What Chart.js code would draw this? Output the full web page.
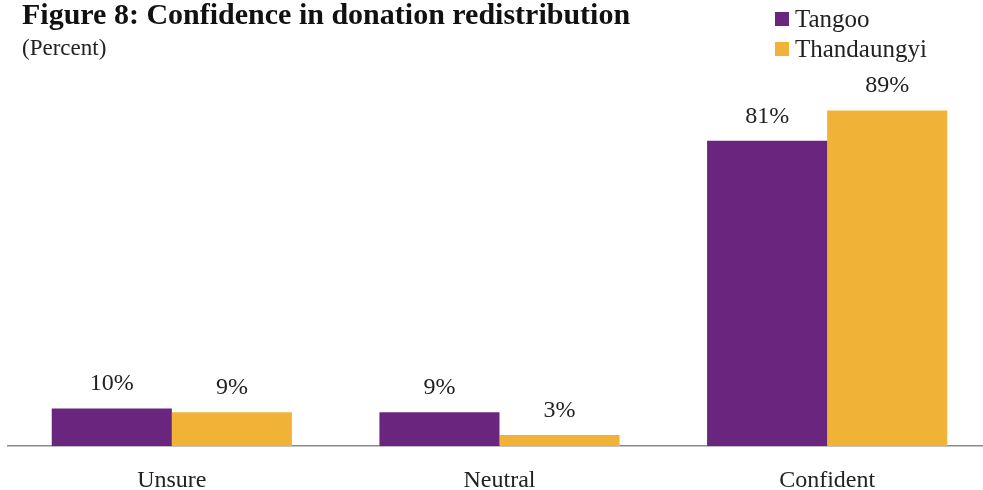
<!DOCTYPE html>
<html>
<head>
<meta charset="utf-8">
<script src="https://cdn.jsdelivr.net/npm/chart.js@4.4.1/dist/chart.umd.min.js"></script>
<style>
	html, body {
		margin: 0;
		padding: 0;
		background: #ffffff;
		overflow: hidden;
	}
	.chart-box {
		position: absolute;
		left: 0;
		top: 0;
		width: 1000px;
		height: 490px;
	}
</style>
</head>
<body>
<div class="chart-box">
	<canvas id="confidence-chart"></canvas>
</div>
<script>
const categories = ['Unsure', 'Neutral', 'Confident'];
const seriesNames = ['Tangoo', 'Thandaungyi'];
const tangooValues = [10, 9, 81];
const thandaungyiValues = [9, 3, 89];
const seriesColors = ['#6a267f', '#f0b337'];

const titleText = 'Figure 8: Confidence in donation redistribution';
const subtitleText = '(Percent)';
const serif = '"Liberation Serif", "DejaVu Serif", serif';

// heading, subtitle and the stacked legend in the top corners
const headerPlugin = {
	id: 'header',
	afterDraw(chart) {
		const ctx = chart.ctx;
		ctx.save();
		ctx.fillStyle = '#111111';
		ctx.textAlign = 'left';
		ctx.textBaseline = 'alphabetic';
		ctx.font = 'bold 30px ' + serif;
		ctx.fillText(titleText, 22, 24);
		ctx.font = '23px ' + serif;
		ctx.fillStyle = '#222222';
		ctx.fillText(subtitleText, 22, 55);

		ctx.font = '25px ' + serif;
		chart.data.datasets.forEach((ds, i) => {
			const y = 12 + i * 30;
			ctx.fillStyle = ds.backgroundColor;
			ctx.fillRect(775, y, 14, 14);
			ctx.fillStyle = '#222222';
			ctx.fillText(ds.label, 795, y + 15);
		});
		ctx.restore();
	},
};

// value labels above every bar
const valueLabelPlugin = {
	id: 'valueLabels',
	afterDatasetsDraw(chart) {
		const ctx = chart.ctx;
		ctx.save();
		ctx.font = '24px ' + serif;
		ctx.fillStyle = '#222222';
		ctx.textAlign = 'center';
		ctx.textBaseline = 'alphabetic';
		chart.data.datasets.forEach((ds, i) => {
			chart.getDatasetMeta(i).data.forEach((bar, j) => {
				ctx.fillText(ds.data[j] + '%', bar.x, bar.y - 18);
			});
		});
		ctx.restore();
	},
};

new Chart(document.getElementById('confidence-chart'), {
	type: 'bar',
	data: {
		labels: categories,
		datasets: [
			{
				label: seriesNames[0],
				data: tangooValues,
				backgroundColor: seriesColors[0],
				borderWidth: 0,
				barPercentage: 1,
				categoryPercentage: 0.733,
			},
			{
				label: seriesNames[1],
				data: thandaungyiValues,
				backgroundColor: seriesColors[1],
				borderWidth: 0,
				barPercentage: 1,
				categoryPercentage: 0.733,
			},
		],
	},
	options: {
		responsive: true,
		maintainAspectRatio: false,
		animation: false,
		layout: {
			padding: { top: 69, left: 8, right: 9, bottom: -25 },
		},
		plugins: {
			legend: { display: false },
			tooltip: { enabled: false },
		},
		scales: {
			x: {
				grid: { display: false, drawTicks: false },
				border: { display: true, color: '#8c8c8c', width: 1.5 },
				ticks: {
					color: '#222222',
					padding: 20,
					font: { family: serif, size: 24 },
				},
			},
			y: {
				display: false,
				min: 0,
				max: 100,
			},
		},
	},
	plugins: [headerPlugin, valueLabelPlugin],
});
</script>
</body>
</html>
